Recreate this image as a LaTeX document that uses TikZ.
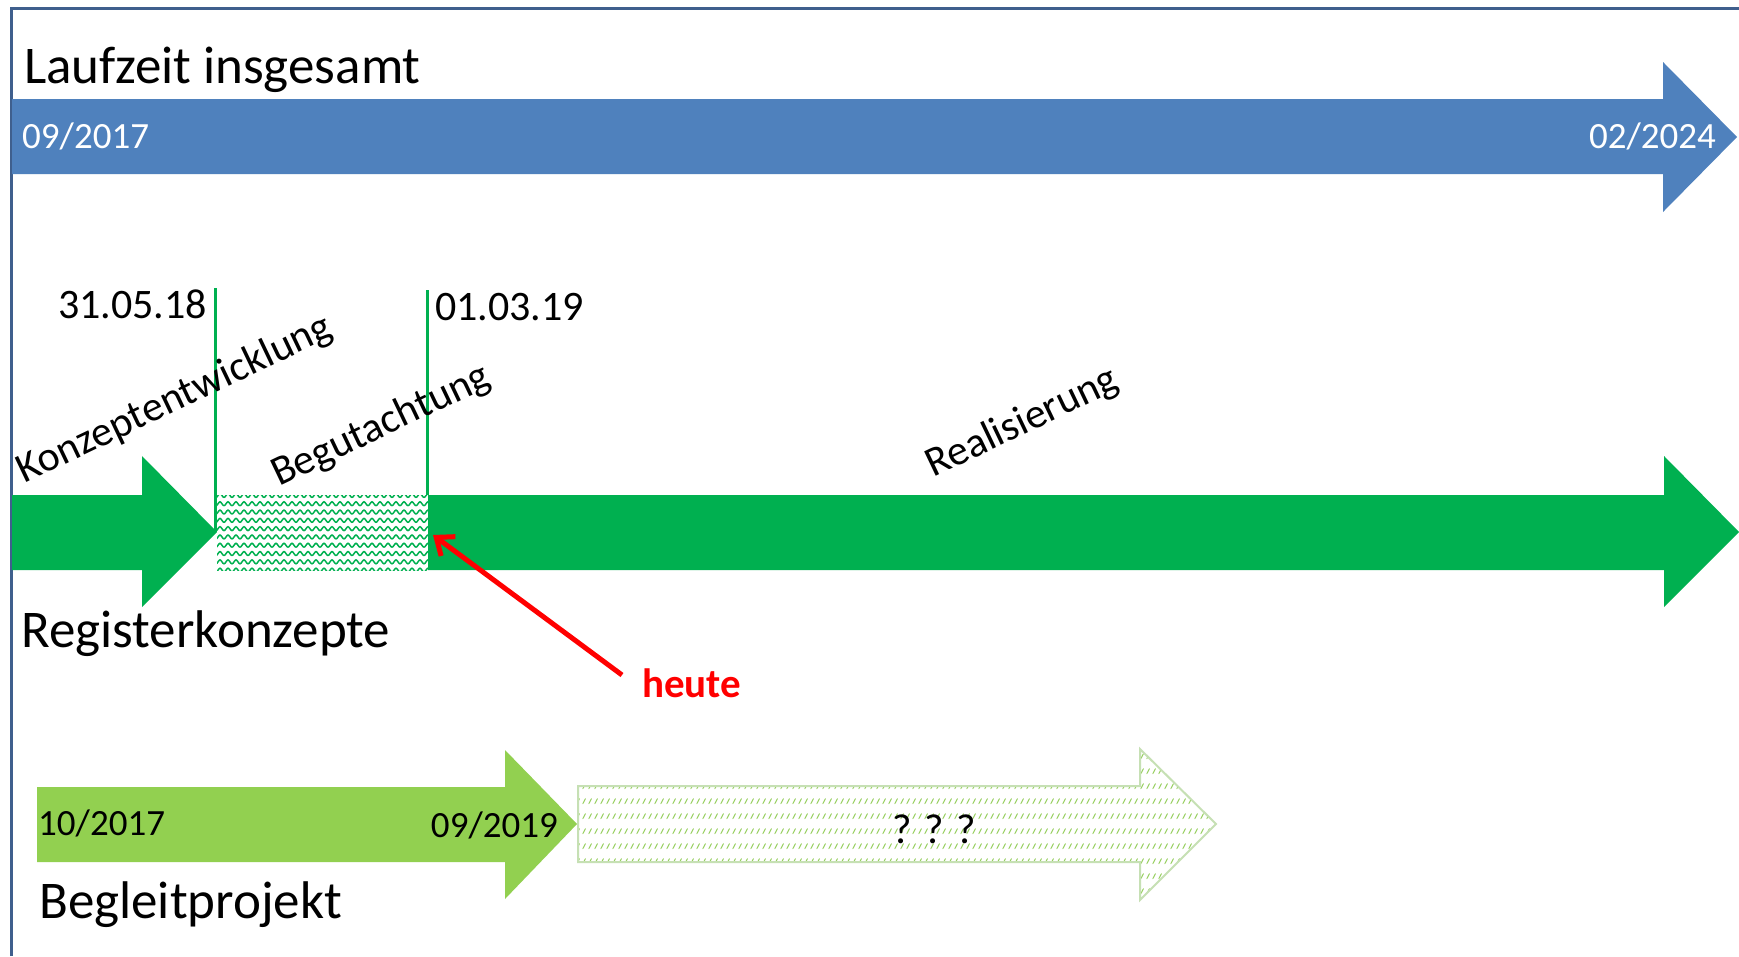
\documentclass[tikz,border=0pt]{standalone}
\usepackage{fontspec}
\setmainfont{Carlito}
\usetikzlibrary{patterns,arrows.meta}
\definecolor{frameblue}{HTML}{3F5F8D}
\definecolor{barblue}{HTML}{4F81BD}
\definecolor{dgreen}{HTML}{00B050}
\definecolor{lgreen}{HTML}{92D050}
\definecolor{hatchgreen}{HTML}{96CF5E}
\definecolor{hatchline}{HTML}{C6E0B4}
\definecolor{heutered}{HTML}{FF0000}
\pgfdeclarepatternformonly{wavy}{\pgfqpoint{-1pt}{-1pt}}{\pgfqpoint{9pt}{9pt}}{\pgfqpoint{8pt}{8.3pt}}{%
  \pgfsetlinewidth{1.5pt}%
  \pgfpathmoveto{\pgfqpoint{0pt}{2pt}}%
  \pgfpathcurveto{\pgfqpoint{1.3pt}{2pt}}{\pgfqpoint{2.7pt}{6pt}}{\pgfqpoint{4pt}{6pt}}%
  \pgfpathcurveto{\pgfqpoint{5.3pt}{6pt}}{\pgfqpoint{6.7pt}{2pt}}{\pgfqpoint{8pt}{2pt}}%
  \pgfusepath{stroke}}
\pgfdeclarepatternformonly{dashdiag}{\pgfqpoint{0pt}{0pt}}{\pgfqpoint{6pt}{14.5pt}}{\pgfqpoint{6pt}{14.5pt}}{%
  \pgfsetlinewidth{1.1pt}%
  \pgfsetroundcap%
  \pgfpathmoveto{\pgfqpoint{1pt}{4.5pt}}%
  \pgfpathlineto{\pgfqpoint{4pt}{9.5pt}}%
  \pgfusepath{stroke}}
\begin{document}
\begin{tikzpicture}[x=1pt,y=-1pt,
  bigtxt/.style={font=\fontsize{53}{60}\selectfont, inner sep=0pt},
  datetxt/.style={font=\fontsize{37}{42}\selectfont, inner sep=0pt},
  msttxt/.style={font=\fontsize{42}{48}\selectfont, inner sep=0pt},
  phasetxt/.style={font=\fontsize{42}{48}\selectfont, inner sep=0pt, rotate=25.5, anchor=base west},
  milestone/.style={draw=dgreen, line width=3pt},
  heutearrow/.style={draw=heutered, line width=5pt, -{Straight Barb[length=15pt,width=24pt]}}]
\useasboundingbox (0,0) rectangle (1739,956);
\fill[white] (0,0) rectangle (1739,956);
% frame
\draw[frameblue, line width=3pt] (11,956) -- (11,8) -- (1739,8);
% Laufzeit arrow
\fill[barblue] (12,99) -- (1663,99) -- (1663,62) -- (1737,137) -- (1663,212) -- (1663,174) -- (12,174) -- cycle;
\node[bigtxt, anchor=base west] (lauf) at (24,83) {Laufzeit insgesamt};
\node[datetxt, anchor=base west, text=white] (lstart) at (22,148) {09/2017};
\node[datetxt, anchor=base east, text=white] (lend) at (1716,148) {02/2024};
% Registerkonzepte arrows
\fill[dgreen] (12,495) -- (142,495) -- (142,456) -- (217,532) -- (142,607) -- (142,570) -- (12,570) -- cycle;
\fill[white] (217,495) rectangle (428,570);
\fill[pattern=wavy, pattern color=dgreen] (217,495) rectangle (428,570);
\fill[dgreen] (428,495) -- (1664,495) -- (1664,456) -- (1739,532) -- (1664,607) -- (1664,570) -- (428,570) -- cycle;
% milestones
\coordinate (m1top) at (215,288);
\coordinate (m1bot) at (215,532);
\coordinate (m2top) at (427,290);
\coordinate (m2bot) at (427,495);
\draw[milestone] (m1top) -- (m1bot);
\draw[milestone] (m2top) -- (m2bot);
\node[msttxt, anchor=base west] (d1) at (58,318) {31.05.18};
\node[msttxt, anchor=base west] (d2) at (435,320) {01.03.19};
\node[phasetxt] (ph1) at (24,484) {Konzeptentwicklung};
\node[phasetxt] (ph2) at (279,487) {Begutachtung};
\node[phasetxt] (ph3) at (933,478) {Realisierung};
\node[bigtxt, anchor=base west] (reg) at (21,647) {Registerkonzepte};
% heute
\node[font=\fontsize{41}{46}\selectfont\bfseries, text=heutered, inner sep=0pt, anchor=base west] (heute) at (642,697) {heute};
\coordinate (now) at (433,535);
\coordinate (tail) at (622,675);
\draw[heutearrow] (tail) -- (now);
% Begleitprojekt
\fill[lgreen] (37,787) -- (505,787) -- (505,750) -- (577,824) -- (505,899) -- (505,862) -- (37,862) -- cycle;
\node[datetxt, anchor=base west] (bstart) at (38,835) {10/2017};
\node[datetxt, anchor=base east] (bend) at (558,837) {09/2019};
\node[bigtxt, anchor=base west] (beg) at (39,918) {Begleitprojekt};
\path[fill=white] (578,786) -- (1140,786) -- (1140,749) -- (1216,824) -- (1140,900) -- (1140,862) -- (578,862) -- cycle;
\path[pattern=dashdiag, pattern color=hatchgreen] (578,786) -- (1140,786) -- (1140,749) -- (1216,824) -- (1140,900) -- (1140,862) -- (578,862) -- cycle;
\draw[hatchline, line width=2pt] (578,786) -- (1140,786) -- (1140,749) -- (1216,824) -- (1140,900) -- (1140,862) -- (578,862) -- cycle;
\node[msttxt, anchor=base] (qq) at (934,843) {? ? ?};
\end{tikzpicture}
\end{document}
